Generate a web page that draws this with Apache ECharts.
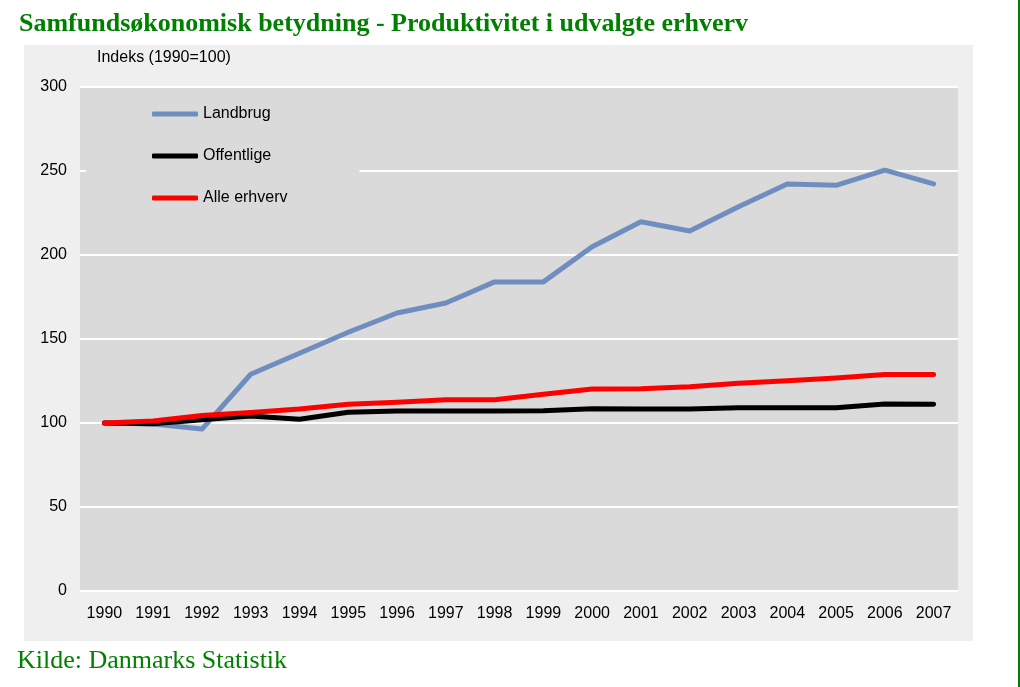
<!DOCTYPE html>
<html>
<head>
<meta charset="utf-8">
<script src="https://cdn.jsdelivr.net/npm/echarts@6/dist/echarts.min.js"></script>
<style>
  html, body { margin: 0; padding: 0; background: #fff; }
  #chart { width: 1020px; height: 687px; }
</style>
</head>
<body>
<div id="chart"></div>
<script>
// Samfundsøkonomisk betydning - produktivitet, indeks 1990=100
const years = ['1990', '1991', '1992', '1993', '1994', '1995', '1996', '1997', '1998',
    '1999', '2000', '2001', '2002', '2003', '2004', '2005', '2006', '2007']

const landbrug = [100, 99.4, 96.4, 129, 141.5, 154, 165.5, 171.4, 184, 184,
    204.9, 219.8, 214.3, 228.7, 242.3, 241.5, 250.5, 242.3]
const offentlige = [100, 99.5, 102, 104.2, 102.2, 106.4, 107.1, 107.1, 107.1, 107.3,
    108.5, 108.3, 108.3, 109.1, 109.1, 109.1, 111.3, 111.1]
const alleErhverv = [100, 101.2, 104.4, 106.2, 108.3, 111.1, 112.3, 113.9, 113.9, 117.1,
    120.2, 120.4, 121.6, 123.6, 125.2, 126.8, 128.8, 128.8]

const green = '#008000'
const axisFont = {fontFamily: 'Liberation Sans, Arial', fontSize: 16, color: '#000'}

function lineSeries(name, data, color) {
    return {
        name: name,
        type: 'line',
        data: data,
        symbol: 'none',
        lineStyle: {color: color, width: 5, cap: 'round', join: 'round'},
        itemStyle: {color: color},
        emphasis: {disabled: true}
    }
}

const chart = echarts.init(document.getElementById('chart'), null, {renderer: 'canvas'})

chart.setOption({
    animation: false,
    title: {
        text: 'Samfundsøkonomisk betydning - Produktivitet i udvalgte erhverv',
        left: 14,
        top: 6,
        textStyle: {
            fontFamily: 'Liberation Serif, Times New Roman',
            fontWeight: 'bold',
            fontSize: 26,
            color: green
        }
    },
    graphic: [
        {
            type: 'rect',
            z: -10,
            shape: {x: 24, y: 45, width: 949, height: 596},
            style: {fill: '#efefef'}
        },
        {
            type: 'line',
            shape: {x1: 1019, y1: 0, x2: 1019, y2: 687},
            style: {stroke: green, lineWidth: 2}
        },
        {
            type: 'text',
            left: 17,
            top: 648,
            style: {
                text: 'Kilde: Danmarks Statistik',
                fontFamily: 'Liberation Serif, Times New Roman',
                fontSize: 26,
                fill: green
            }
        }
    ],
    grid: {
        left: 80,
        right: 62,
        top: 87,
        bottom: 96,
        show: true,
        backgroundColor: '#dadada',
        borderWidth: 0
    },
    legend: {
        orient: 'vertical',
        left: 86,
        top: 99,
        padding: [7, 72, 10, 66],
        backgroundColor: '#dadada',
        icon: 'roundRect',
        itemWidth: 46,
        itemHeight: 5,
        itemGap: 26,
        textStyle: {fontFamily: 'Liberation Sans, Arial', fontSize: 16, color: '#000'},
        data: ['Landbrug', 'Offentlige', 'Alle erhverv']
    },
    xAxis: {
        type: 'category',
        data: years,
        boundaryGap: true,
        axisLine: {show: false},
        axisTick: {show: false},
        axisLabel: Object.assign({margin: 15, interval: 0}, axisFont)
    },
    yAxis: {
        type: 'value',
        min: 0,
        max: 300,
        interval: 50,
        name: 'Indeks (1990=100)',
        nameLocation: 'end',
        nameGap: 29,
        nameTextStyle: Object.assign({align: 'left', verticalAlign: 'middle', padding: [0, 0, 0, 17]}, axisFont),
        axisLine: {show: false},
        axisTick: {show: false},
        axisLabel: Object.assign({margin: 13}, axisFont),
        splitLine: {lineStyle: {color: '#ffffff', width: 2}}
    },
    series: [
        lineSeries('Landbrug', landbrug, '#6f8ebf'),
        lineSeries('Offentlige', offentlige, '#000000'),
        lineSeries('Alle erhverv', alleErhverv, '#ff0000')
    ]
})
</script>
</body>
</html>
